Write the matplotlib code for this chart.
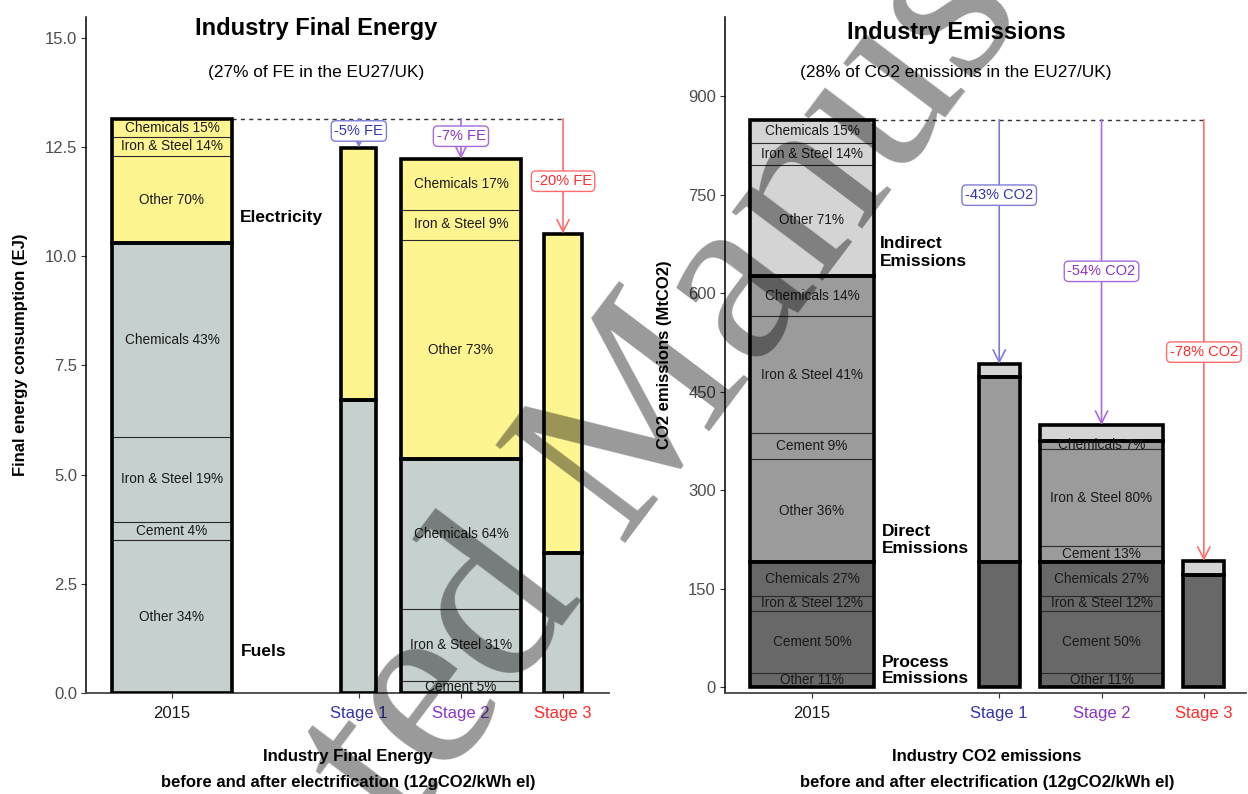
import matplotlib
matplotlib.use("Agg")
import matplotlib.pyplot as plt
from matplotlib.patches import Rectangle

plt.rcParams["font.family"] = ["Liberation Sans", "DejaVu Sans"]

W, H = 1248, 794

# ---------- data ----------------------------------------------------------

STAGES = ["2015", "Stage 1", "Stage 2", "Stage 3"]
STAGE_COLORS = ["#1a1a1a", "#3434b0", "#8a35c9", "#ff2b2b"]
ARROW_COLORS = ["#1a1a1a", "#7c7cd6", "#a96ade", "#ff6e6e"]

# final energy (EJ)
FE_FUELS = [10.30, 6.72, 5.35, 3.20]
FE_ELEC = [2.85, 5.77, 6.88, 7.32]
FE_CHANGE = ["", "-5% FE", "-7% FE", "-20% FE"]
FE_CHANGE_Y = [None, 12.87, 12.75, 11.72]

# sector splits, bottom to top
FE_2015_FUEL_SECTORS = ["Other", "Cement", "Iron & Steel", "Chemicals"]
FE_2015_FUEL_SHARE = [34, 4, 19, 43]
FE_2015_ELEC_SECTORS = ["Other", "Cement", "Iron & Steel", "Chemicals"]
FE_2015_ELEC_SHARE = [70, 1, 14, 15]
FE_S2_FUEL_SECTORS = ["Cement", "Iron & Steel", "Chemicals"]
FE_S2_FUEL_SHARE = [5, 31, 64]
FE_S2_ELEC_SECTORS = ["Other", "Cement", "Iron & Steel", "Chemicals"]
FE_S2_ELEC_SHARE = [73, 1, 9, 17]

# emissions (MtCO2)
CO_PROCESS = [190, 190, 190, 170]
CO_DIRECT = [436, 282, 185, 0]
CO_INDIRECT = [238, 20, 24, 22]
CO_CHANGE = ["", "-43% CO2", "-54% CO2", "-78% CO2"]
CO_CHANGE_Y = [None, 749, 633, 510]

CO_PROC_SECTORS = ["Other", "Cement", "Iron & Steel", "Chemicals"]
CO_PROC_SHARE = [11, 50, 12, 27]
CO_2015_DIR_SECTORS = ["Other", "Cement", "Iron & Steel", "Chemicals"]
CO_2015_DIR_SHARE = [36, 9, 41, 14]
CO_2015_IND_SECTORS = ["Other", "Iron & Steel", "Chemicals"]
CO_2015_IND_SHARE = [71, 14, 15]
CO_S2_DIR_SECTORS = ["Cement", "Iron & Steel", "Chemicals"]
CO_S2_DIR_SHARE = [13, 80, 7]

X_POS = [0, 1.83, 2.83, 3.83]

FUEL_C = "#c6d0cf"
ELEC_C = "#fff590"
PROC_C = "#686868"
DIR_C = "#9b9b9b"
IND_C = "#d4d4d4"


# ---------- helpers -------------------------------------------------------

def px_axes(x0, x1, ytop, ybot):
    return fig.add_axes([x0 / W, 1 - ybot / H, (x1 - x0) / W, (ybot - ytop) / H])


def draw_block(ax, x, width, bottom, total, color, sectors=(), shares=()):
    if total <= 0:
        return
    left = x - width / 2
    ax.add_patch(Rectangle((left, bottom), width, total, facecolor=color,
                           lw=0, zorder=2))
    y = bottom
    for k, (name, share) in enumerate(zip(sectors, shares)):
        h = total * share / 100
        if share >= 3:
            ax.text(x, y + h / 2, f"{name} {share}%", ha="center", va="center",
                    fontsize=9.8, color="#1a1a1a", zorder=4)
            # separator above a labelled sector (tiny ones merge upwards)
            if k < len(shares) - 1:
                ax.plot([left, left + width], [y + h, y + h], color="#2a2a2a",
                        lw=0.8, zorder=2.5, solid_capstyle="butt")
        y += h
    ax.add_patch(Rectangle((left, bottom), width, total, fill=False,
                           edgecolor="black", lw=2.6, zorder=3))


def style_axes(ax, xlim, ylim, yticks, yfmt):
    ax.set_xlim(*xlim)
    ax.set_ylim(*ylim)
    for s in ("top", "right"):
        ax.spines[s].set_visible(False)
    ax.spines["left"].set_color("black")
    ax.spines["left"].set_linewidth(1.1)
    ax.spines["bottom"].set_color("#444444")
    ax.spines["bottom"].set_linewidth(1.3)
    ax.set_yticks(yticks)
    ax.set_yticklabels([yfmt(v) for v in yticks])
    ax.set_xticks(X_POS)
    ax.set_xticklabels(STAGES)
    for lab, c in zip(ax.get_xticklabels(), STAGE_COLORS):
        lab.set_color(c)
    ax.tick_params(axis="both", length=3.5, width=0.8, color="#333333",
                   labelsize=12, pad=3)
    ax.tick_params(axis="y", labelcolor="#4d4d4d")
    ax.tick_params(axis="x", pad=6)


def draw_changes(ax, base, totals, labels, label_y, x_start):
    ax.plot([x_start, X_POS[3]], [base, base], color="#333333", lw=1.0,
            ls=(0, (3, 3)), zorder=1)
    for i in range(1, 4):
        ax.annotate("", xy=(X_POS[i], totals[i]), xytext=(X_POS[i], base),
                    arrowprops=dict(arrowstyle="->", color=ARROW_COLORS[i], lw=1.2,
                                    mutation_scale=22, shrinkA=0, shrinkB=0),
                    zorder=5)
        ax.text(X_POS[i], label_y[i], labels[i], ha="center", va="center",
                fontsize=10.5, color=STAGE_COLORS[i], zorder=6,
                bbox=dict(boxstyle="round,pad=0.22,rounding_size=0.3", fc="white",
                          ec=ARROW_COLORS[i], lw=1.0))


# ---------- figure --------------------------------------------------------

fig = plt.figure(figsize=(W / 100, H / 100), dpi=100)

# left: final energy
ax1 = px_axes(86, 609, 17, 693)
style_axes(ax1, (-0.842, 4.28), (0, 15.48), [0, 2.5, 5, 7.5, 10, 12.5, 15],
           lambda v: f"{v:.1f}")
fe_width = [1.18, 0.34, 1.18, 0.38]
fe_sectors = {0: (FE_2015_FUEL_SECTORS, FE_2015_FUEL_SHARE, FE_2015_ELEC_SECTORS, FE_2015_ELEC_SHARE),
              2: (FE_S2_FUEL_SECTORS, FE_S2_FUEL_SHARE, FE_S2_ELEC_SECTORS, FE_S2_ELEC_SHARE)}
fe_total = [f + e for f, e in zip(FE_FUELS, FE_ELEC)]
for i, x in enumerate(X_POS):
    fs, fsh, es, esh = fe_sectors.get(i, ((), (), (), ()))
    draw_block(ax1, x, fe_width[i], 0, FE_FUELS[i], FUEL_C, fs, fsh)
    draw_block(ax1, x, fe_width[i], FE_FUELS[i], FE_ELEC[i], ELEC_C, es, esh)
draw_changes(ax1, fe_total[0], fe_total, FE_CHANGE, FE_CHANGE_Y, fe_width[0] / 2)
ax1.text(0.666, 10.88, "Electricity", fontsize=12.5, fontweight="bold", va="center")
ax1.text(0.676, 0.96, "Fuels", fontsize=12.5, fontweight="bold", va="center")

# right: emissions
ax2 = px_axes(725, 1246, 17, 693)
style_axes(ax2, (-0.85, 4.242), (-9.1, 1020.3), [0, 150, 300, 450, 600, 750, 900],
           lambda v: f"{v:d}")
co_width = [1.21, 0.40, 1.20, 0.40]
co_total = [p + d + n for p, d, n in zip(CO_PROCESS, CO_DIRECT, CO_INDIRECT)]
for i, x in enumerate(X_POS):
    proc = (CO_PROC_SECTORS, CO_PROC_SHARE) if i in (0, 2) else ((), ())
    if i == 0:
        direct = (CO_2015_DIR_SECTORS, CO_2015_DIR_SHARE)
        indirect = (CO_2015_IND_SECTORS, CO_2015_IND_SHARE)
    elif i == 2:
        direct = (CO_S2_DIR_SECTORS, CO_S2_DIR_SHARE)
        indirect = ((), ())
    else:
        direct = indirect = ((), ())
    draw_block(ax2, x, co_width[i], 0, CO_PROCESS[i], PROC_C, *proc)
    draw_block(ax2, x, co_width[i], CO_PROCESS[i], CO_DIRECT[i], DIR_C, *direct)
    draw_block(ax2, x, co_width[i], CO_PROCESS[i] + CO_DIRECT[i], CO_INDIRECT[i],
               IND_C, *indirect)
draw_changes(ax2, co_total[0], co_total, CO_CHANGE, CO_CHANGE_Y, co_width[0] / 2)
ax2.text(0.665, 662, "Indirect\nEmissions", fontsize=12.5, fontweight="bold",
         va="center", linespacing=1.25)
ax2.text(0.68, 224, "Direct\nEmissions", fontsize=12.5, fontweight="bold",
         va="center", linespacing=1.2)
ax2.text(0.68, 25, "Process\nEmissions", fontsize=12.5, fontweight="bold",
         va="center", linespacing=1.05)

# titles and axis captions
fig.text(316 / W, 1 - 28 / H, "Industry Final Energy", ha="center", va="center",
         fontsize=17, fontweight="bold")
fig.text(316 / W, 1 - 72 / H, "(27% of FE in the EU27/UK)", ha="center",
         va="center", fontsize=12.4)
fig.text(956 / W, 1 - 32 / H, "Industry Emissions", ha="center", va="center",
         fontsize=17, fontweight="bold")
fig.text(956 / W, 1 - 72 / H, "(28% of CO2 emissions in the EU27/UK)", ha="center",
         va="center", fontsize=12.4)

fig.text(21 / W, 1 - 355 / H, "Final energy consumption (EJ)", rotation=90,
         ha="center", va="center", fontsize=12, fontweight="bold")
fig.text(665 / W, 1 - 355 / H, "CO2 emissions (MtCO2)", rotation=90,
         ha="center", va="center", fontsize=12, fontweight="bold")

for xc, first in ((348, "Industry Final Energy"), (987, "Industry CO2 emissions")):
    fig.text(xc / W, 1 - 756 / H, first, ha="center", va="center",
             fontsize=12, fontweight="bold")
    fig.text(xc / W, 1 - 782 / H, "before and after electrification (12gCO2/kWh el)",
             ha="center", va="center", fontsize=12, fontweight="bold")

# manuscript stamp across both panels
fig.text(613 / W, 1 - 460 / H, "Accepted Manuscript", rotation=53,
         rotation_mode="anchor", ha="center", va="center", fontsize=178,
         family=["Liberation Serif", "DejaVu Serif"], color="black", alpha=0.4,
         zorder=20)

fig.savefig("out.png", dpi=100)
